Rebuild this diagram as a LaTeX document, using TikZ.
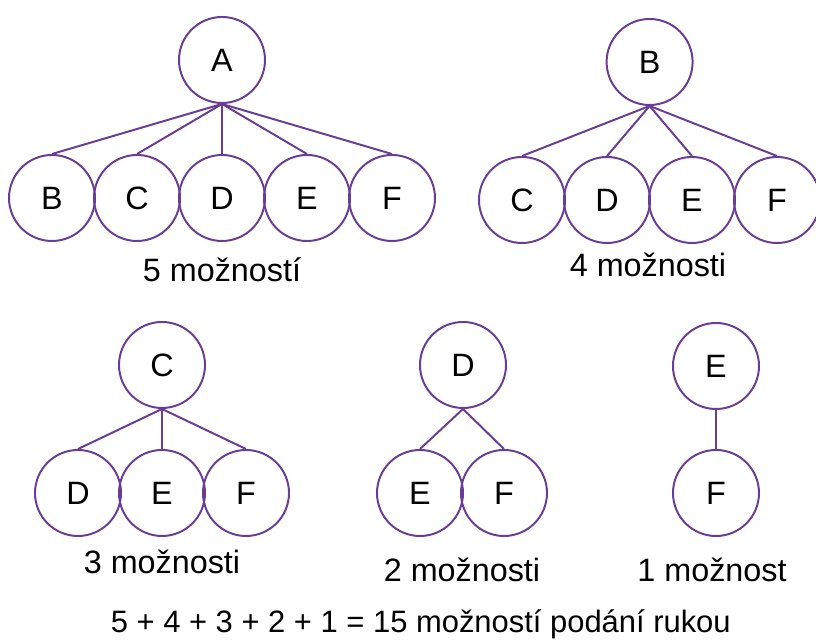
\documentclass[tikz,border=0pt]{standalone}
\usepackage{fontspec}
\setmainfont{Liberation Sans}
\usepackage{tikz}
\usetikzlibrary{positioning}
\definecolor{fialova}{RGB}{105,60,150}

\begin{document}
\begin{tikzpicture}[
  uzel/.style={circle, draw=fialova, line width=1.4pt, minimum size=2.15cm, inner sep=0pt, font=\fontsize{23}{27}\selectfont},
  hrana/.style={draw=fialova, line width=1.4pt},
  popis/.style={font=\fontsize{23}{27}\selectfont}
]

% Rozmer obrazku
\useasboundingbox (0,0) rectangle (20.4,16);

% Prvni strom: A podava ruku peti lidem
\node[uzel] (a) at (5.55,14.5) {A};  % Koren
\node[uzel] (ab) at (1.3,11.05) {B};
\node[uzel] (ac) at (3.425,11.05) {C};
\node[uzel] (ad) at (5.55,11.05) {D};
\node[uzel] (ae) at (7.675,11.05) {E};
\node[uzel] (af) at (9.8,11.05) {F};
\draw[hrana] (a.south) -- (ab.north);
\draw[hrana] (a.south) -- (ac.north);
\draw[hrana] (a.south) -- (ad.north);
\draw[hrana] (a.south) -- (ae.north);
\draw[hrana] (a.south) -- (af.north);
\node[popis] (pa) at (5.55,9.25) {5 možností};  % Popis pod stromem

% Druhy strom: B
\node[uzel] (b) at (16.24,14.45) {B};  % Koren
\node[uzel] (bc) at (13.05,11.0) {C};
\node[uzel] (bd) at (15.175,11.0) {D};
\node[uzel] (be) at (17.3,11.0) {E};
\node[uzel] (bf) at (19.425,11.0) {F};
\draw[hrana] (b.south) -- (bc.north);
\draw[hrana] (b.south) -- (bd.north);
\draw[hrana] (b.south) -- (be.north);
\draw[hrana] (b.south) -- (bf.north);
\node[popis] (pb) at (16.2,9.375) {4 možnosti};  % Popis pod stromem

% Treti strom: C
\node[uzel] (c) at (4.05,6.875) {C};  % Koren
\node[uzel] (cd) at (1.95,3.675) {D};
\node[uzel] (ce) at (4.05,3.675) {E};
\node[uzel] (cf) at (6.15,3.675) {F};
\draw[hrana] (c.south) -- (cd.north);
\draw[hrana] (c.south) -- (ce.north);
\draw[hrana] (c.south) -- (cf.north);
\node[popis] (pc) at (4.05,1.95) {3 možnosti};  % Popis pod stromem

% Ctvrty strom: D
\node[uzel] (d) at (11.575,6.875) {D};  % Koren
\node[uzel] (de) at (10.5,3.675) {E};
\node[uzel] (df) at (12.6,3.675) {F};
\draw[hrana] (d.south) -- (de.north);
\draw[hrana] (d.south) -- (df.north);
\node[popis] (pd) at (11.55,1.75) {2 možnosti};  % Popis pod stromem

% Paty strom: E
\node[uzel] (e) at (17.9,6.85) {E};  % Koren
\node[uzel] (ef) at (17.9,3.675) {F};
\draw[hrana] (e.south) -- (ef.north);
\node[popis] (pe) at (17.8,1.75) {1 možnost};  % Popis pod stromem

% Soucet
\node[popis, font=\fontsize{22}{26}\selectfont] (soucet) at (10.52,0.4) {5 + 4 + 3 + 2 + 1 = 15 možností podání rukou};

\end{tikzpicture}
\end{document}
